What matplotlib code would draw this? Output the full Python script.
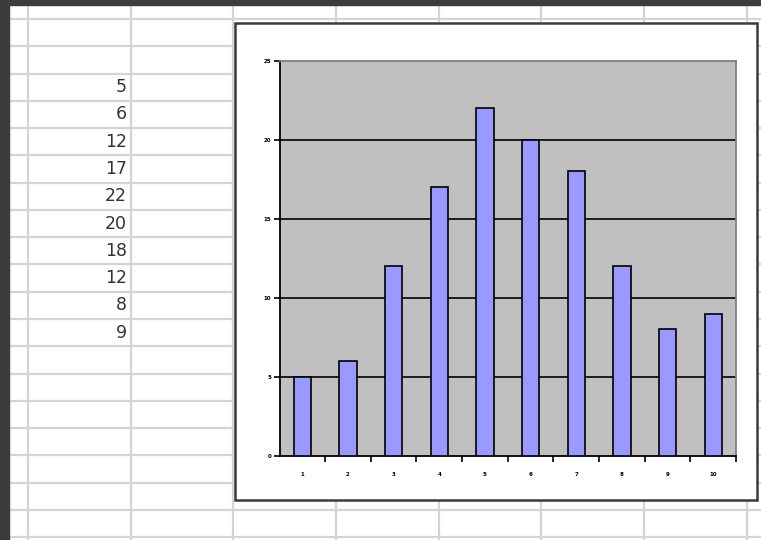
import matplotlib.pyplot as plt
from matplotlib.patches import Rectangle

# Données
categories = [1, 2, 3, 4, 5, 6, 7, 8, 9, 10]
valeurs = [5, 6, 12, 17, 22, 20, 18, 12, 8, 9]
yticks = [0, 5, 10, 15, 20, 25]

W, H = 761, 540
fig = plt.figure(figsize=(W / 100, H / 100), dpi=100)

# Fond : la feuille de calcul
bg = fig.add_axes([0, 0, 1, 1])
bg.set_xlim(0, W)
bg.set_ylim(H, 0)
bg.axis("off")
grid_col = "#d4d4d4"
row_h = 27.27
col_w = 102.65
y = 19.0
while y < H:
    bg.plot([0, W], [y, y], color=grid_col, lw=1.6)
    y += row_h
x = 28.0
while x < W:
    bg.plot([x, x], [0, H], color=grid_col, lw=1.6)
    x += col_w
bg.add_patch(Rectangle((0, 0), W, 5, color="#3c3c3c", zorder=4))
bg.add_patch(Rectangle((0, 0), 9, H, color="#3c3c3c", zorder=4))

# Valeurs dans la colonne B
for i, v in enumerate(valeurs):
    yc = 19.0 + row_h * (i + 2.5)
    bg.text(127, yc, str(v), ha="right", va="center", fontsize=12.5,
            family="DejaVu Sans", color="#333333")

# Zone du graphique
bg.add_patch(Rectangle((235, 22.5), 521.5, 477.5, facecolor="white",
                       edgecolor="#3a3a3a", lw=1.8, zorder=3))

L, T, R, B = 279.5, 60.7, 736.0, 455.7
ax = fig.add_axes([L / W, (H - B) / H, (R - L) / W, (B - T) / H], zorder=5)
ax.set_facecolor("#c0c0c0")
ax.bar(categories, valeurs, width=0.38, color="#9999ff", edgecolor="black",
       linewidth=1.2, zorder=3)
ax.set_xlim(0.5, 10.5)
ax.set_ylim(0, 25)
ax.set_yticks(yticks)
ax.set_yticklabels([str(t) for t in yticks], fontsize=4, fontweight="bold")
for t in yticks[1:-1]:
    ax.axhline(t, color="black", lw=1.2, zorder=2)
ax.set_xticks(categories)
ax.set_xticklabels([str(c) for c in categories], fontsize=4, fontweight="bold")
ax.set_xticks([c + 0.5 for c in categories], minor=True)
ax.tick_params(axis="x", which="major", length=0, pad=12)
ax.tick_params(axis="x", which="minor", length=4, width=1.2, direction="out")
ax.tick_params(axis="y", length=4, width=1.2, direction="out", pad=2)
for s in ["left", "bottom"]:
    ax.spines[s].set_color("black")
    ax.spines[s].set_linewidth(1.3)
for s in ["top", "right"]:
    ax.spines[s].set_color("#808080")
    ax.spines[s].set_linewidth(1.3)

fig.savefig("out.png", dpi=100)
